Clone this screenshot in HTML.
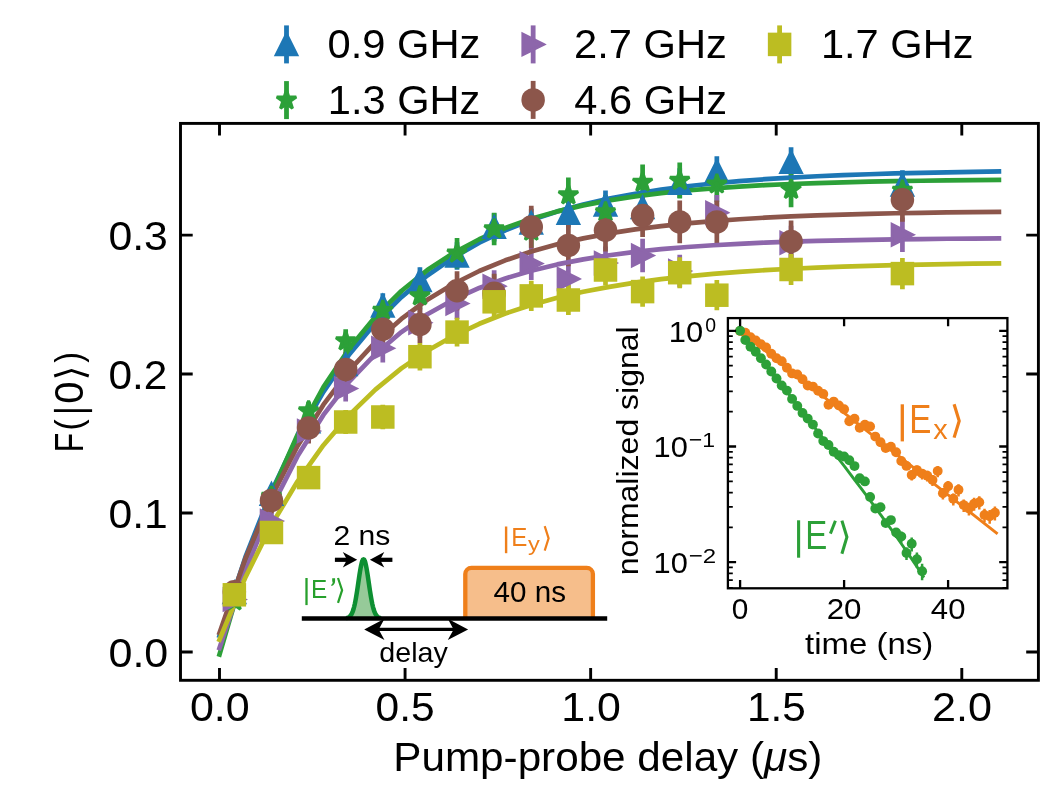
<!DOCTYPE html>
<html lang="en"><head><meta charset="utf-8"><title>Pump-probe delay chart</title>
<style>html,body{margin:0;padding:0;background:#fff;}body{width:1051px;height:786px;overflow:hidden;font-family:"Liberation Sans",sans-serif;}svg{display:block;will-change:transform;}</style>
</head><body>
<svg width="1051" height="786" viewBox="0 0 1051 786" font-family="'Liberation Sans', sans-serif">
<rect width="1051" height="786" fill="#fff"/>
<g stroke-width="4.7" stroke-linecap="butt">
<path d="M234.35 587.32V597.88M271.46 485.59V502.81M308.58 411.4V432.2M345.69 352.87V376.13M382.81 293.25V318.75M419.92 267.28V293.72M457.04 242.36V269.64M494.15 213.17V241.43M531.27 208.8V237.2M568.38 198.84V227.56M605.5 190.5V219.5M642.61 193.04V221.96M679.73 168.35V198.05M716.84 156.27V186.33M791.07 147.13V177.47M902.42 170.18V199.82" stroke="#1d77b5" fill="none"/>
<path d="M234.35 599.05V602.95M271.46 490.57V502.43M308.58 401.81V420.19M345.69 329.14V352.86M382.81 297.48V323.52M419.92 282.42V309.58M457.04 237.99V268.41M494.15 212.87V245.13M531.27 215.26V247.34M568.38 177.57V212.43M605.5 195.12V228.68M642.61 164.39V200.21M679.73 162.52V198.48M716.84 166.26V201.94M791.07 171.86V207.14M902.42 172.69V207.91" stroke="#2ca038" fill="none"/>
<path d="M234.35 594.54V604.46M271.46 512.41V529.59M308.58 419.25V442.75M345.69 375.44V401.56M382.81 334.08V362.52M419.92 307.77V337.63M457.04 288.05V318.95M494.15 270.3V302.1M531.27 247.12V280.08M568.38 262.81V294.99M605.5 246.5V279.5M642.61 238.81V272.19M679.73 254.7V287.3M716.84 194.95V230.45M791.07 225.79V259.81M902.42 217.59V252.01" stroke="#8d66ab" fill="none"/>
<path d="M234.35 583.82V599.78M271.46 487.84V513.16M308.58 412.61V443.39M345.69 352.11V386.69M382.81 310.82V347.78M419.92 305.89V343.11M457.04 271.15V310.25M494.15 273.72V312.68M531.27 205.8V248.2M568.38 224.66V266.14M605.5 209.18V251.42M642.61 194.11V237.09M679.73 200.57V243.23M716.84 200.57V243.23M791.07 220.56V262.24M902.42 177.93V221.67" stroke="#8c564b" fill="none"/>
<path d="M234.35 588.76V600.84M271.46 523.77V541.23M308.58 467.06V488.14M345.69 409.89V434.11M382.81 404.76V429.24M419.92 342.98V370.42M457.04 317.82V346.38M494.15 286.86V316.74M531.27 280.84V310.96M568.38 285.02V314.98M605.5 254.4V285.6M642.61 276.44V306.76M679.73 257.15V288.25M716.84 280.12V310.28M791.07 253.89V285.11M902.42 258.07V289.13" stroke="#bcbd22" fill="none"/>
</g>
<g fill="none" stroke-width="4.7" stroke-linecap="square" stroke-linejoin="round">
<path d="M219.5 635.85 L245.48 556.99 L271.46 491.46 L297.44 437.02 L323.42 391.8 L349.4 354.22 L375.38 323 L401.36 297.07 L427.34 275.52 L453.32 257.62 L479.31 242.74 L505.29 230.39 L531.27 220.12 L557.25 211.59 L583.23 204.5 L609.21 198.62 L635.19 193.73 L661.17 189.66 L687.15 186.29 L713.13 183.48 L739.11 181.15 L765.09 179.21 L791.07 177.61 L817.05 176.27 L843.03 175.16 L869.01 174.24 L894.99 173.47 L920.97 172.83 L946.95 172.3 L972.93 171.87 L998.91 171.5" stroke="#1d77b5"/>
<path d="M219.5 654.49 L245.48 565.77 L271.46 493.6 L297.44 434.89 L323.42 387.14 L349.4 348.3 L375.38 316.7 L401.36 291 L427.34 270.09 L453.32 253.08 L479.31 239.25 L505.29 227.99 L531.27 218.84 L557.25 211.39 L583.23 205.34 L609.21 200.41 L635.19 196.4 L661.17 193.14 L687.15 190.49 L713.13 188.33 L739.11 186.58 L765.09 185.15 L791.07 183.99 L817.05 183.05 L843.03 182.28 L869.01 181.65 L894.99 181.14 L920.97 180.73 L946.95 180.39 L972.93 180.12 L998.91 179.9" stroke="#2ca038"/>
<path d="M219.5 648.06 L245.48 570.36 L271.46 507.37 L297.44 456.31 L323.42 414.91 L349.4 381.34 L375.38 354.14 L401.36 332.08 L427.34 314.2 L453.32 299.7 L479.31 287.95 L505.29 278.42 L531.27 270.7 L557.25 264.43 L583.23 259.36 L609.21 255.24 L635.19 251.91 L661.17 249.2 L687.15 247.01 L713.13 245.23 L739.11 243.79 L765.09 242.62 L791.07 241.68 L817.05 240.91 L843.03 240.29 L869.01 239.78 L894.99 239.37 L920.97 239.04 L946.95 238.77 L972.93 238.55 L998.91 238.38" stroke="#8d66ab"/>
<path d="M219.5 632.92 L245.48 558.3 L271.46 496.87 L297.44 446.28 L323.42 404.64 L349.4 370.35 L375.38 342.12 L401.36 318.88 L427.34 299.74 L453.32 283.99 L479.31 271.02 L505.29 260.34 L531.27 251.54 L557.25 244.3 L583.23 238.34 L609.21 233.44 L635.19 229.4 L661.17 226.07 L687.15 223.33 L713.13 221.08 L739.11 219.22 L765.09 217.69 L791.07 216.43 L817.05 215.4 L843.03 214.54 L869.01 213.84 L894.99 213.26 L920.97 212.79 L946.95 212.4 L972.93 212.07 L998.91 211.81" stroke="#8c564b"/>
<path d="M219.5 639.63 L245.48 577.18 L271.46 525.04 L297.44 481.53 L323.42 445.2 L349.4 414.87 L375.38 389.56 L401.36 368.42 L427.34 350.78 L453.32 336.06 L479.31 323.76 L505.29 313.5 L531.27 304.94 L557.25 297.78 L583.23 291.81 L609.21 286.83 L635.19 282.67 L661.17 279.2 L687.15 276.3 L713.13 273.88 L739.11 271.86 L765.09 270.17 L791.07 268.77 L817.05 267.59 L843.03 266.61 L869.01 265.79 L894.99 265.11 L920.97 264.54 L946.95 264.06 L972.93 263.66 L998.91 263.33" stroke="#bcbd22"/>
</g>
<g>
<polygon points="234.35,582.35 224.1,602.85 244.6,602.85" fill="#1d77b5" stroke="#1d77b5" stroke-width="3" stroke-linejoin="miter" stroke-miterlimit="10"/>
<polygon points="271.46,483.95 261.21,504.45 281.71,504.45" fill="#1d77b5" stroke="#1d77b5" stroke-width="3" stroke-linejoin="miter" stroke-miterlimit="10"/>
<polygon points="308.58,411.55 298.33,432.05 318.83,432.05" fill="#1d77b5" stroke="#1d77b5" stroke-width="3" stroke-linejoin="miter" stroke-miterlimit="10"/>
<polygon points="345.69,354.25 335.44,374.75 355.94,374.75" fill="#1d77b5" stroke="#1d77b5" stroke-width="3" stroke-linejoin="miter" stroke-miterlimit="10"/>
<polygon points="382.81,295.75 372.56,316.25 393.06,316.25" fill="#1d77b5" stroke="#1d77b5" stroke-width="3" stroke-linejoin="miter" stroke-miterlimit="10"/>
<polygon points="419.92,270.25 409.67,290.75 430.17,290.75" fill="#1d77b5" stroke="#1d77b5" stroke-width="3" stroke-linejoin="miter" stroke-miterlimit="10"/>
<polygon points="457.04,245.75 446.79,266.25 467.29,266.25" fill="#1d77b5" stroke="#1d77b5" stroke-width="3" stroke-linejoin="miter" stroke-miterlimit="10"/>
<polygon points="494.15,217.05 483.9,237.55 504.4,237.55" fill="#1d77b5" stroke="#1d77b5" stroke-width="3" stroke-linejoin="miter" stroke-miterlimit="10"/>
<polygon points="531.27,212.75 521.02,233.25 541.52,233.25" fill="#1d77b5" stroke="#1d77b5" stroke-width="3" stroke-linejoin="miter" stroke-miterlimit="10"/>
<polygon points="568.38,202.95 558.13,223.45 578.63,223.45" fill="#1d77b5" stroke="#1d77b5" stroke-width="3" stroke-linejoin="miter" stroke-miterlimit="10"/>
<polygon points="605.5,194.75 595.25,215.25 615.75,215.25" fill="#1d77b5" stroke="#1d77b5" stroke-width="3" stroke-linejoin="miter" stroke-miterlimit="10"/>
<polygon points="642.61,197.25 632.36,217.75 652.86,217.75" fill="#1d77b5" stroke="#1d77b5" stroke-width="3" stroke-linejoin="miter" stroke-miterlimit="10"/>
<polygon points="679.73,172.95 669.48,193.45 689.98,193.45" fill="#1d77b5" stroke="#1d77b5" stroke-width="3" stroke-linejoin="miter" stroke-miterlimit="10"/>
<polygon points="716.84,161.05 706.59,181.55 727.09,181.55" fill="#1d77b5" stroke="#1d77b5" stroke-width="3" stroke-linejoin="miter" stroke-miterlimit="10"/>
<polygon points="791.07,152.05 780.82,172.55 801.32,172.55" fill="#1d77b5" stroke="#1d77b5" stroke-width="3" stroke-linejoin="miter" stroke-miterlimit="10"/>
<polygon points="902.42,174.75 892.17,195.25 912.67,195.25" fill="#1d77b5" stroke="#1d77b5" stroke-width="3" stroke-linejoin="miter" stroke-miterlimit="10"/>
</g>
<g>
<polygon points="234.35,590.75 232.04,597.83 224.6,597.83 230.62,602.21 228.32,609.29 234.35,604.92 240.37,609.29 238.07,602.21 244.09,597.83 236.65,597.83" fill="#2ca038" stroke="#2ca038" stroke-width="3" stroke-linejoin="bevel"/>
<polygon points="271.46,486.25 269.16,493.33 261.71,493.33 267.74,497.71 265.44,504.79 271.46,500.42 277.49,504.79 275.18,497.71 281.21,493.33 273.76,493.33" fill="#2ca038" stroke="#2ca038" stroke-width="3" stroke-linejoin="bevel"/>
<polygon points="308.58,400.75 306.27,407.83 298.83,407.83 304.85,412.21 302.55,419.29 308.58,414.92 314.6,419.29 312.3,412.21 318.32,407.83 310.88,407.83" fill="#2ca038" stroke="#2ca038" stroke-width="3" stroke-linejoin="bevel"/>
<polygon points="345.69,330.75 343.39,337.83 335.94,337.83 341.97,342.21 339.67,349.29 345.69,344.92 351.72,349.29 349.41,342.21 355.44,337.83 347.99,337.83" fill="#2ca038" stroke="#2ca038" stroke-width="3" stroke-linejoin="bevel"/>
<polygon points="382.81,300.25 380.5,307.33 373.06,307.33 379.08,311.71 376.78,318.79 382.81,314.42 388.83,318.79 386.53,311.71 392.55,307.33 385.11,307.33" fill="#2ca038" stroke="#2ca038" stroke-width="3" stroke-linejoin="bevel"/>
<polygon points="419.92,285.75 417.62,292.83 410.17,292.83 416.2,297.21 413.9,304.29 419.92,299.92 425.95,304.29 423.64,297.21 429.67,292.83 422.22,292.83" fill="#2ca038" stroke="#2ca038" stroke-width="3" stroke-linejoin="bevel"/>
<polygon points="457.04,242.95 454.73,250.03 447.29,250.03 453.31,254.41 451.01,261.49 457.04,257.12 463.06,261.49 460.76,254.41 466.78,250.03 459.34,250.03" fill="#2ca038" stroke="#2ca038" stroke-width="3" stroke-linejoin="bevel"/>
<polygon points="494.15,218.75 491.85,225.83 484.4,225.83 490.43,230.21 488.13,237.29 494.15,232.92 500.18,237.29 497.87,230.21 503.9,225.83 496.45,225.83" fill="#2ca038" stroke="#2ca038" stroke-width="3" stroke-linejoin="bevel"/>
<polygon points="531.27,221.05 528.96,228.13 521.52,228.13 527.54,232.51 525.24,239.59 531.27,235.22 537.29,239.59 534.99,232.51 541.01,228.13 533.57,228.13" fill="#2ca038" stroke="#2ca038" stroke-width="3" stroke-linejoin="bevel"/>
<polygon points="568.38,184.75 566.08,191.83 558.63,191.83 564.66,196.21 562.36,203.29 568.38,198.92 574.41,203.29 572.1,196.21 578.13,191.83 570.68,191.83" fill="#2ca038" stroke="#2ca038" stroke-width="3" stroke-linejoin="bevel"/>
<polygon points="605.5,201.65 603.19,208.73 595.75,208.73 601.77,213.11 599.47,220.19 605.5,215.82 611.52,220.19 609.22,213.11 615.24,208.73 607.8,208.73" fill="#2ca038" stroke="#2ca038" stroke-width="3" stroke-linejoin="bevel"/>
<polygon points="642.61,172.05 640.31,179.13 632.86,179.13 638.89,183.51 636.59,190.59 642.61,186.22 648.64,190.59 646.33,183.51 652.36,179.13 644.91,179.13" fill="#2ca038" stroke="#2ca038" stroke-width="3" stroke-linejoin="bevel"/>
<polygon points="679.73,170.25 677.42,177.33 669.98,177.33 676,181.71 673.7,188.79 679.73,184.42 685.75,188.79 683.45,181.71 689.47,177.33 682.03,177.33" fill="#2ca038" stroke="#2ca038" stroke-width="3" stroke-linejoin="bevel"/>
<polygon points="716.84,173.85 714.54,180.93 707.09,180.93 713.12,185.31 710.82,192.39 716.84,188.02 722.87,192.39 720.56,185.31 726.59,180.93 719.14,180.93" fill="#2ca038" stroke="#2ca038" stroke-width="3" stroke-linejoin="bevel"/>
<polygon points="791.07,179.25 788.77,186.33 781.32,186.33 787.35,190.71 785.05,197.79 791.07,193.42 797.1,197.79 794.79,190.71 800.82,186.33 793.37,186.33" fill="#2ca038" stroke="#2ca038" stroke-width="3" stroke-linejoin="bevel"/>
<polygon points="902.42,180.05 900.11,187.13 892.67,187.13 898.69,191.51 896.39,198.59 902.42,194.22 908.44,198.59 906.14,191.51 912.16,187.13 904.72,187.13" fill="#2ca038" stroke="#2ca038" stroke-width="3" stroke-linejoin="bevel"/>
</g>
<g>
<polygon points="244.6,599.5 224.1,589.25 224.1,609.75" fill="#8d66ab" stroke="#8d66ab" stroke-width="3" stroke-linejoin="miter" stroke-miterlimit="10"/>
<polygon points="281.71,521 261.21,510.75 261.21,531.25" fill="#8d66ab" stroke="#8d66ab" stroke-width="3" stroke-linejoin="miter" stroke-miterlimit="10"/>
<polygon points="318.83,431 298.33,420.75 298.33,441.25" fill="#8d66ab" stroke="#8d66ab" stroke-width="3" stroke-linejoin="miter" stroke-miterlimit="10"/>
<polygon points="355.94,388.5 335.44,378.25 335.44,398.75" fill="#8d66ab" stroke="#8d66ab" stroke-width="3" stroke-linejoin="miter" stroke-miterlimit="10"/>
<polygon points="393.06,348.3 372.56,338.05 372.56,358.55" fill="#8d66ab" stroke="#8d66ab" stroke-width="3" stroke-linejoin="miter" stroke-miterlimit="10"/>
<polygon points="430.17,322.7 409.67,312.45 409.67,332.95" fill="#8d66ab" stroke="#8d66ab" stroke-width="3" stroke-linejoin="miter" stroke-miterlimit="10"/>
<polygon points="467.29,303.5 446.79,293.25 446.79,313.75" fill="#8d66ab" stroke="#8d66ab" stroke-width="3" stroke-linejoin="miter" stroke-miterlimit="10"/>
<polygon points="504.4,286.2 483.9,275.95 483.9,296.45" fill="#8d66ab" stroke="#8d66ab" stroke-width="3" stroke-linejoin="miter" stroke-miterlimit="10"/>
<polygon points="541.52,263.6 521.02,253.35 521.02,273.85" fill="#8d66ab" stroke="#8d66ab" stroke-width="3" stroke-linejoin="miter" stroke-miterlimit="10"/>
<polygon points="578.63,278.9 558.13,268.65 558.13,289.15" fill="#8d66ab" stroke="#8d66ab" stroke-width="3" stroke-linejoin="miter" stroke-miterlimit="10"/>
<polygon points="615.75,263 595.25,252.75 595.25,273.25" fill="#8d66ab" stroke="#8d66ab" stroke-width="3" stroke-linejoin="miter" stroke-miterlimit="10"/>
<polygon points="652.86,255.5 632.36,245.25 632.36,265.75" fill="#8d66ab" stroke="#8d66ab" stroke-width="3" stroke-linejoin="miter" stroke-miterlimit="10"/>
<polygon points="689.98,271 669.48,260.75 669.48,281.25" fill="#8d66ab" stroke="#8d66ab" stroke-width="3" stroke-linejoin="miter" stroke-miterlimit="10"/>
<polygon points="727.09,212.7 706.59,202.45 706.59,222.95" fill="#8d66ab" stroke="#8d66ab" stroke-width="3" stroke-linejoin="miter" stroke-miterlimit="10"/>
<polygon points="801.32,242.8 780.82,232.55 780.82,253.05" fill="#8d66ab" stroke="#8d66ab" stroke-width="3" stroke-linejoin="miter" stroke-miterlimit="10"/>
<polygon points="912.67,234.8 892.17,224.55 892.17,245.05" fill="#8d66ab" stroke="#8d66ab" stroke-width="3" stroke-linejoin="miter" stroke-miterlimit="10"/>
</g>
<g>
<circle cx="234.35" cy="591.8" r="11.75" fill="#8c564b"/>
<circle cx="271.46" cy="500.5" r="11.75" fill="#8c564b"/>
<circle cx="308.58" cy="428" r="11.75" fill="#8c564b"/>
<circle cx="345.69" cy="369.4" r="11.75" fill="#8c564b"/>
<circle cx="382.81" cy="329.3" r="11.75" fill="#8c564b"/>
<circle cx="419.92" cy="324.5" r="11.75" fill="#8c564b"/>
<circle cx="457.04" cy="290.7" r="11.75" fill="#8c564b"/>
<circle cx="494.15" cy="293.2" r="11.75" fill="#8c564b"/>
<circle cx="531.27" cy="227" r="11.75" fill="#8c564b"/>
<circle cx="568.38" cy="245.4" r="11.75" fill="#8c564b"/>
<circle cx="605.5" cy="230.3" r="11.75" fill="#8c564b"/>
<circle cx="642.61" cy="215.6" r="11.75" fill="#8c564b"/>
<circle cx="679.73" cy="221.9" r="11.75" fill="#8c564b"/>
<circle cx="716.84" cy="221.9" r="11.75" fill="#8c564b"/>
<circle cx="791.07" cy="241.4" r="11.75" fill="#8c564b"/>
<circle cx="902.42" cy="199.8" r="11.75" fill="#8c564b"/>
</g>
<g>
<rect x="222.6" y="583.05" width="23.5" height="23.5" fill="#bcbd22"/>
<rect x="259.71" y="520.75" width="23.5" height="23.5" fill="#bcbd22"/>
<rect x="296.83" y="465.85" width="23.5" height="23.5" fill="#bcbd22"/>
<rect x="333.94" y="410.25" width="23.5" height="23.5" fill="#bcbd22"/>
<rect x="371.06" y="405.25" width="23.5" height="23.5" fill="#bcbd22"/>
<rect x="408.17" y="344.95" width="23.5" height="23.5" fill="#bcbd22"/>
<rect x="445.29" y="320.35" width="23.5" height="23.5" fill="#bcbd22"/>
<rect x="482.4" y="290.05" width="23.5" height="23.5" fill="#bcbd22"/>
<rect x="519.52" y="284.15" width="23.5" height="23.5" fill="#bcbd22"/>
<rect x="556.63" y="288.25" width="23.5" height="23.5" fill="#bcbd22"/>
<rect x="593.75" y="258.25" width="23.5" height="23.5" fill="#bcbd22"/>
<rect x="630.86" y="279.85" width="23.5" height="23.5" fill="#bcbd22"/>
<rect x="667.98" y="260.95" width="23.5" height="23.5" fill="#bcbd22"/>
<rect x="705.09" y="283.45" width="23.5" height="23.5" fill="#bcbd22"/>
<rect x="779.32" y="257.75" width="23.5" height="23.5" fill="#bcbd22"/>
<rect x="890.67" y="261.85" width="23.5" height="23.5" fill="#bcbd22"/>
</g>
<rect x="180.5" y="123.4" width="857.9" height="556.9" fill="none" stroke="#000" stroke-width="2.9"/>
<path d="M219.5 680.3v-12.2 M219.5 123.4v12.2M405.07 680.3v-12.2 M405.07 123.4v12.2M590.65 680.3v-12.2 M590.65 123.4v12.2M776.22 680.3v-12.2 M776.22 123.4v12.2M961.8 680.3v-12.2 M961.8 123.4v12.2M180.5 652h12.2 M1038.4 652h-12.2M180.5 513.03h12.2 M1038.4 513.03h-12.2M180.5 374.06h12.2 M1038.4 374.06h-12.2M180.5 235.09h12.2 M1038.4 235.09h-12.2" stroke="#000" stroke-width="2.9" fill="none"/>
<text transform="translate(189.92,721.3) scale(1.0390,1)" font-size="41.43" fill="#000">0.0</text>
<text transform="translate(375.51,721.3) scale(1.0267,1)" font-size="41.43" fill="#000">0.5</text>
<text transform="translate(561.32,721.3) scale(1.0345,1)" font-size="41.43" fill="#000">1.0</text>
<text transform="translate(746.93,721.3) scale(1.0219,1)" font-size="41.43" fill="#000">1.5</text>
<text transform="translate(932.07,721.3) scale(1.0416,1)" font-size="41.43" fill="#000">2.0</text>
<text transform="translate(108.45,666.6) scale(1.0390,1)" font-size="41.43" fill="#000">0.0</text>
<text transform="translate(108.46,527.63) scale(1.0290,1)" font-size="41.43" fill="#000">0.1</text>
<text transform="translate(108.47,388.66) scale(1.0238,1)" font-size="41.43" fill="#000">0.2</text>
<text transform="translate(108.46,249.69) scale(1.0322,1)" font-size="41.43" fill="#000">0.3</text>
<text transform="translate(393.32,771.2) scale(1.0191,1)" font-size="41.43" fill="#000" xml:space="preserve">Pump-probe delay (<tspan font-style="italic">μ</tspan>s)</text>
<g transform="translate(83.1,449.9) rotate(-90)"><text transform="translate(-2.42,0) scale(0.7673,1)" font-size="41.43" fill="#000">F</text><g transform="translate(0,-1.9)"><text transform="translate(19.3,0) scale(0.8916,1)" font-size="37.6" fill="#000">(</text></g><path d="M39.25 -29.2V9.0" fill="none" stroke="#000" stroke-width="2.8"/><text transform="translate(46.2,0) scale(0.9654,1)" font-size="41.43" fill="#000">0</text><path d="M73.9 -28.9L79.5 -11.6L73.9 5.7" fill="none" stroke="#000" stroke-width="2.9" stroke-linejoin="miter"/><g transform="translate(0,-1.9)"><text transform="translate(87.26,0) scale(0.8511,1)" font-size="37.6" fill="#000">)</text></g></g>
<path d="M286.5 25.4V63.4" stroke="#1d77b5" stroke-width="4.8"/>
<polygon points="286.5,34.15 276.25,54.65 296.75,54.65" fill="#1d77b5" stroke="#1d77b5" stroke-width="3" stroke-linejoin="miter" stroke-miterlimit="10"/>
<text transform="translate(327.55,58.2) scale(1.0058,1)" font-size="41.43" fill="#000">0.9 GHz</text>
<path d="M286.5 81.1V119.1" stroke="#2ca038" stroke-width="4.8"/>
<polygon points="286.5,89.85 284.2,96.93 276.75,96.93 282.78,101.31 280.48,108.39 286.5,104.02 292.52,108.39 290.22,101.31 296.25,96.93 288.8,96.93" fill="#2ca038" stroke="#2ca038" stroke-width="3" stroke-linejoin="bevel"/>
<text transform="translate(327.84,113.6) scale(1.0039,1)" font-size="41.43" fill="#000">1.3 GHz</text>
<path d="M533.15 25.4V63.4" stroke="#8d66ab" stroke-width="4.8"/>
<polygon points="543.4,44.4 522.9,34.15 522.9,54.65" fill="#8d66ab" stroke="#8d66ab" stroke-width="3" stroke-linejoin="miter" stroke-miterlimit="10"/>
<text transform="translate(574.07,58.2) scale(1.0066,1)" font-size="41.43" fill="#000">2.7 GHz</text>
<path d="M533.15 80.9V118.9" stroke="#8c564b" stroke-width="4.8"/>
<circle cx="533.15" cy="99.9" r="11.75" fill="#8c564b"/>
<text transform="translate(574.35,113.6) scale(1.0048,1)" font-size="41.43" fill="#000">4.6 GHz</text>
<path d="M779.6 25.4V63.4" stroke="#bcbd22" stroke-width="4.8"/>
<rect x="767.85" y="32.65" width="23.5" height="23.5" fill="#bcbd22"/>
<text transform="translate(820.94,58.2) scale(1.0039,1)" font-size="41.43" fill="#000">1.7 GHz</text>
<rect x="727.9" y="318.1" width="279.5" height="270.2" fill="#fff"/>
<clipPath id="ic"><rect x="727.9" y="318.1" width="279.5" height="270.2"/></clipPath>
<g clip-path="url(#ic)">
<path d="M911.7 470.5V480.5M916.9 465.49V475.74M922.1 468.88V479.38M927.3 470.86V481.61M932.5 474.95V485.95M937.7 466.04V477.29M942.9 488.02V499.52M948.1 480.91V492.66M953.3 493.4V505.4M958.5 484.19V496.44M963.7 499.48V511.98M968.9 502.86V515.61M974.1 497.85V510.85M979.3 496.34V509.59M984.5 508.82V522.32M989.7 510.11V523.86M994.9 506.5V520.5" stroke="#ef7f1a" stroke-width="2.5" fill="none"/>
<path d="M896.1 528V538M901.3 531.51V542.82M906.5 547.33V559.93M911.7 537.54V551.44M916.9 552.46V567.66M922.1 563.78V580.28" stroke="#2ca038" stroke-width="2.5" fill="none"/>
<path d="M740.1 330.9 L996.46 533.03" stroke="#ef7f1a" stroke-width="2.9" fill="none" stroke-linecap="square"/>
<path d="M740.1 331.63 L745.33 338.33 L750.56 345.04 L755.79 351.75 L761.02 358.46 L766.25 365.18 L771.48 371.89 L776.71 378.62 L781.94 385.34 L787.17 392.07 L792.4 398.81 L797.63 405.55 L802.86 412.3 L808.09 419.06 L813.32 425.82 L818.55 432.6 L823.78 439.39 L829.01 446.19 L834.23 453.01 L839.46 459.85 L844.69 466.71 L849.92 473.59 L855.15 480.5 L860.38 487.44 L865.61 494.42 L870.84 501.45 L876.07 508.52 L881.3 515.65 L886.53 522.85 L891.76 530.12 L896.99 537.49 L902.22 544.97 L907.45 552.57 L912.68 560.32 L917.91 568.25 L923.14 576.4" stroke="#2ca038" stroke-width="2.9" fill="none" stroke-linecap="square"/>
<g fill="#ef7f1a"><circle cx="740.1" cy="330.9" r="4.95"/><circle cx="745.3" cy="332.7" r="4.95"/><circle cx="750.5" cy="337.2" r="4.95"/><circle cx="755.7" cy="340.4" r="4.95"/><circle cx="760.9" cy="344.2" r="4.95"/><circle cx="766.1" cy="347.4" r="4.95"/><circle cx="771.3" cy="353.7" r="4.95"/><circle cx="776.5" cy="358.2" r="4.95"/><circle cx="781.7" cy="361.3" r="4.95"/><circle cx="786.9" cy="367.7" r="4.95"/><circle cx="792.1" cy="373.4" r="4.95"/><circle cx="797.3" cy="374.5" r="4.95"/><circle cx="802.5" cy="379.2" r="4.95"/><circle cx="807.7" cy="385.5" r="4.95"/><circle cx="812.9" cy="386.6" r="4.95"/><circle cx="818.1" cy="390.7" r="4.95"/><circle cx="823.3" cy="393.9" r="4.95"/><circle cx="828.5" cy="404.8" r="4.95"/><circle cx="833.7" cy="401.6" r="4.95"/><circle cx="838.9" cy="405.4" r="4.95"/><circle cx="844.1" cy="409.3" r="4.95"/><circle cx="849.3" cy="421.3" r="4.95"/><circle cx="854.5" cy="418.8" r="4.95"/><circle cx="859.7" cy="427.7" r="4.95"/><circle cx="864.9" cy="424.8" r="4.95"/><circle cx="870.1" cy="426.4" r="4.95"/><circle cx="875.3" cy="436.6" r="4.95"/><circle cx="880.5" cy="442.3" r="4.95"/><circle cx="885.7" cy="448.1" r="4.95"/><circle cx="890.9" cy="446.8" r="4.95"/><circle cx="896.1" cy="452.3" r="4.95"/><circle cx="901.3" cy="461" r="4.95"/><circle cx="906.5" cy="465.9" r="4.95"/><circle cx="911.7" cy="475" r="4.95"/><circle cx="916.9" cy="470.1" r="4.95"/><circle cx="922.1" cy="473.6" r="4.95"/><circle cx="927.3" cy="475.7" r="4.95"/><circle cx="932.5" cy="479.9" r="4.95"/><circle cx="937.7" cy="471.1" r="4.95"/><circle cx="942.9" cy="493.2" r="4.95"/><circle cx="948.1" cy="486.2" r="4.95"/><circle cx="953.3" cy="498.8" r="4.95"/><circle cx="958.5" cy="489.7" r="4.95"/><circle cx="963.7" cy="505.1" r="4.95"/><circle cx="968.9" cy="508.6" r="4.95"/><circle cx="974.1" cy="503.7" r="4.95"/><circle cx="979.3" cy="502.3" r="4.95"/><circle cx="984.5" cy="514.9" r="4.95"/><circle cx="989.7" cy="516.3" r="4.95"/><circle cx="994.9" cy="512.8" r="4.95"/></g>
<g fill="#2ca038"><circle cx="740.1" cy="330.8" r="4.95"/><circle cx="745.3" cy="340.1" r="4.95"/><circle cx="750.5" cy="346.7" r="4.95"/><circle cx="755.7" cy="351.8" r="4.95"/><circle cx="760.9" cy="358.2" r="4.95"/><circle cx="766.1" cy="364.5" r="4.95"/><circle cx="771.3" cy="371.5" r="4.95"/><circle cx="776.5" cy="378.5" r="4.95"/><circle cx="781.7" cy="385.5" r="4.95"/><circle cx="786.9" cy="390.6" r="4.95"/><circle cx="792.1" cy="398.9" r="4.95"/><circle cx="797.3" cy="405.9" r="4.95"/><circle cx="802.5" cy="412.9" r="4.95"/><circle cx="807.7" cy="418.6" r="4.95"/><circle cx="812.9" cy="424.6" r="4.95"/><circle cx="818.1" cy="433.5" r="4.95"/><circle cx="823.3" cy="441.1" r="4.95"/><circle cx="828.5" cy="445" r="4.95"/><circle cx="833.7" cy="451.7" r="4.95"/><circle cx="838.9" cy="455.3" r="4.95"/><circle cx="844.1" cy="456.5" r="4.95"/><circle cx="849.3" cy="460.3" r="4.95"/><circle cx="854.5" cy="466.1" r="4.95"/><circle cx="859.7" cy="478.2" r="4.95"/><circle cx="864.9" cy="481.4" r="4.95"/><circle cx="870.1" cy="496.9" r="4.95"/><circle cx="875.3" cy="508.5" r="4.95"/><circle cx="880.5" cy="507.2" r="4.95"/><circle cx="885.7" cy="523.1" r="4.95"/><circle cx="890.9" cy="520.1" r="4.95"/><circle cx="896.1" cy="532.5" r="4.95"/><circle cx="901.3" cy="536.6" r="4.95"/><circle cx="906.5" cy="553" r="4.95"/><circle cx="911.7" cy="543.8" r="4.95"/><circle cx="916.9" cy="559.3" r="4.95"/><circle cx="922.1" cy="571.2" r="4.95"/></g>
</g>
<rect x="727.9" y="318.1" width="279.5" height="270.2" fill="none" stroke="#000" stroke-width="2.3"/>
<path d="M740.1 588.3v-8.2 M740.1 318.1v8.2M844.1 588.3v-8.2 M844.1 318.1v8.2M948.1 588.3v-8.2 M948.1 318.1v8.2M727.9 330.9h8.2 M1007.4 330.9h-8.2M727.9 446.5h8.2 M1007.4 446.5h-8.2M727.9 562.1h8.2 M1007.4 562.1h-8.2" stroke="#000" stroke-width="2.3" fill="none"/>
<path d="M727.9 411.7h4.9 M1007.4 411.7h-4.9M727.9 391.34h4.9 M1007.4 391.34h-4.9M727.9 376.9h4.9 M1007.4 376.9h-4.9M727.9 365.7h4.9 M1007.4 365.7h-4.9M727.9 356.55h4.9 M1007.4 356.55h-4.9M727.9 348.81h4.9 M1007.4 348.81h-4.9M727.9 342.1h4.9 M1007.4 342.1h-4.9M727.9 336.19h4.9 M1007.4 336.19h-4.9M727.9 527.3h4.9 M1007.4 527.3h-4.9M727.9 506.94h4.9 M1007.4 506.94h-4.9M727.9 492.5h4.9 M1007.4 492.5h-4.9M727.9 481.3h4.9 M1007.4 481.3h-4.9M727.9 472.15h4.9 M1007.4 472.15h-4.9M727.9 464.41h4.9 M1007.4 464.41h-4.9M727.9 457.7h4.9 M1007.4 457.7h-4.9M727.9 451.79h4.9 M1007.4 451.79h-4.9M727.9 587.75h4.9 M1007.4 587.75h-4.9M727.9 580.01h4.9 M1007.4 580.01h-4.9M727.9 573.3h4.9 M1007.4 573.3h-4.9M727.9 567.39h4.9 M1007.4 567.39h-4.9" stroke="#000" stroke-width="1.75" fill="none"/>
<text transform="translate(731.77,619) scale(0.9878,1)" font-size="30.19" fill="#000">0</text>
<text transform="translate(826.64,619) scale(1.0368,1)" font-size="30.19" fill="#000">20</text>
<text transform="translate(930.87,619) scale(1.0296,1)" font-size="30.19" fill="#000">40</text>
<text transform="translate(668.74,341.8) scale(1.0210,1)" font-size="30.19" fill="#000">10</text><text transform="translate(705.22,331.6) scale(0.9215,1)" font-size="21.14" fill="#000">0</text>
<text transform="translate(653.59,457.4) scale(1.0193,1)" font-size="30.19" fill="#000">10</text><text transform="translate(688.85,447.2) scale(1.0893,1)" font-size="21.14" fill="#000">−1</text>
<text transform="translate(653.59,573) scale(1.0193,1)" font-size="30.19" fill="#000">10</text><text transform="translate(688.8,562.8) scale(1.1374,1)" font-size="21.14" fill="#000">−2</text>
<text transform="translate(805.11,654.4) scale(1.0911,1)" font-size="30.19" fill="#000">time (ns)</text>
<g transform="translate(638,573.2) rotate(-90)"><text transform="translate(-2.16,0) scale(1.0602,1)" font-size="30.19" fill="#000">normalized signal</text></g>
<g fill="#ef7f1a" stroke="#ef7f1a">
<path d="M902.3 404.3V441.4" stroke-width="3.3" fill="none"/>
<text transform="translate(909.26,432.9) scale(0.8328,1)" font-size="39.84" fill="#ef7f1a" stroke="none">E</text>
<text transform="translate(933.34,438.9) scale(1.0342,1)" font-size="27.89" fill="#ef7f1a" stroke="none">x</text>
<path d="M954.1 404.3L959.2 420.9L954.1 437.6" stroke-width="3.2" fill="none"/>
</g>
<g fill="#2ca038" stroke="#2ca038">
<path d="M798.6 520.3V557.7" stroke-width="3.1" fill="none"/>
<text transform="translate(805.28,549) scale(0.8282,1)" font-size="39.84" fill="#2ca038" stroke="none">E</text>
<path d="M835.4 520.8L830.4 533.6" stroke-width="3.0" fill="none"/>
<path d="M841.9 520.6L846.9 537.1L841.9 553.7" stroke-width="3.1" fill="none"/>
</g>
<path d="M346.05 618.1 L346.63 618 L347.22 617.87 L347.8 617.7 L348.38 617.46 L348.97 617.14 L349.55 616.73 L350.13 616.19 L350.72 615.49 L351.3 614.62 L351.88 613.54 L352.47 612.21 L353.05 610.62 L353.63 608.73 L354.22 606.52 L354.8 603.98 L355.38 601.11 L355.97 597.93 L356.55 594.46 L357.13 590.74 L357.72 586.85 L358.3 582.86 L358.88 578.86 L359.47 574.95 L360.05 571.26 L360.63 567.89 L361.22 564.95 L361.8 562.55 L362.38 560.77 L362.97 559.67 L363.55 559.3 L364.13 559.67 L364.72 560.77 L365.3 562.55 L365.88 564.95 L366.47 567.89 L367.05 571.26 L367.63 574.95 L368.22 578.86 L368.8 582.86 L369.38 586.85 L369.97 590.74 L370.55 594.46 L371.13 597.93 L371.72 601.11 L372.3 603.98 L372.88 606.52 L373.47 608.73 L374.05 610.62 L374.63 612.21 L375.22 613.54 L375.8 614.62 L376.38 615.49 L376.97 616.19 L377.55 616.73 L378.13 617.14 L378.72 617.46 L379.3 617.7 L379.88 617.87 L380.47 618 L381.05 618.1Z" fill="#96ca99" stroke="none"/>
<path d="M346.05 618.1 L346.63 618 L347.22 617.87 L347.8 617.7 L348.38 617.46 L348.97 617.14 L349.55 616.73 L350.13 616.19 L350.72 615.49 L351.3 614.62 L351.88 613.54 L352.47 612.21 L353.05 610.62 L353.63 608.73 L354.22 606.52 L354.8 603.98 L355.38 601.11 L355.97 597.93 L356.55 594.46 L357.13 590.74 L357.72 586.85 L358.3 582.86 L358.88 578.86 L359.47 574.95 L360.05 571.26 L360.63 567.89 L361.22 564.95 L361.8 562.55 L362.38 560.77 L362.97 559.67 L363.55 559.3 L364.13 559.67 L364.72 560.77 L365.3 562.55 L365.88 564.95 L366.47 567.89 L367.05 571.26 L367.63 574.95 L368.22 578.86 L368.8 582.86 L369.38 586.85 L369.97 590.74 L370.55 594.46 L371.13 597.93 L371.72 601.11 L372.3 603.98 L372.88 606.52 L373.47 608.73 L374.05 610.62 L374.63 612.21 L375.22 613.54 L375.8 614.62 L376.38 615.49 L376.97 616.19 L377.55 616.73 L378.13 617.14 L378.72 617.46 L379.3 617.7 L379.88 617.87 L380.47 618 L381.05 618.1" fill="none" stroke="#0d8f32" stroke-width="4.5" stroke-linejoin="round"/>
<path d="M465.3 618.3V574.1A6.2 6.2 0 0 1 471.5 567.9H586.7A6.2 6.2 0 0 1 592.9 574.1V618.3" fill="#f6be8b" stroke="#ef7f1a" stroke-width="4.3"/>
<path d="M301.8 618.5H607.2" stroke="#000" stroke-width="4.6" fill="none"/>
<path d="M334.9 559.8H347.5" stroke="#000" stroke-width="4.2" fill="none"/><path d="M357.2 559.8L342.8 552L347 559.8L342.8 567.6Z" fill="#000"/>
<path d="M392.4 559.8H379.6" stroke="#000" stroke-width="4.2" fill="none"/><path d="M369.9 559.8L384.3 552L380.1 559.8L384.3 567.6Z" fill="#000"/>
<path d="M416 629.4H378.2" stroke="#000" stroke-width="3.2" fill="none"/><path d="M364.2 629.4L384.5 618.7L378.7 629.4L384.5 640.1Z" fill="#000"/>
<path d="M416 629.4H454.1" stroke="#000" stroke-width="3.2" fill="none"/><path d="M468.1 629.4L447.8 618.7L453.6 629.4L447.8 640.1Z" fill="#000"/>
<text transform="translate(333.39,544.6) scale(1.0920,1)" font-size="27.6" fill="#000">2 ns</text>
<text transform="translate(379.28,662) scale(1.0345,1)" font-size="27.7" fill="#000">delay</text>
<text transform="translate(493.53,601.6) scale(1.0358,1)" font-size="28.6" fill="#000">40 ns</text>
<g fill="#27a02c" stroke="#27a02c">
<path d="M306.5 578V605.1" stroke-width="2.3" fill="none"/>
<text transform="translate(310.99,598.4) scale(0.9147,1)" font-size="26.6" fill="#27a02c" stroke="none">E</text>
<path d="M332.2 578.3h2.9v2.6q0 3.6 -3.4 5.2l-0.7 -1.1q1.7 -0.9 1.8 -3.3h-0.6z" stroke="none"/>
<path d="M338 578L342.1 590.2L338 602.8" stroke-width="2.2" fill="none"/>
</g>
<g fill="#ef7f1a" stroke="#ef7f1a">
<path d="M506.1 526.5V553.2" stroke-width="2.4" fill="none"/>
<text transform="translate(511.31,546.3) scale(0.9078,1)" font-size="26.6" fill="#ef7f1a" stroke="none">E</text>
<text transform="translate(528.04,551.2) scale(1.1255,1)" font-size="21" fill="#ef7f1a" stroke="none">y</text>
<path d="M544.7 526.2L548.6 538.3L544.7 550.6" stroke-width="2.2" fill="none"/>
</g>
</svg>
</body></html>
